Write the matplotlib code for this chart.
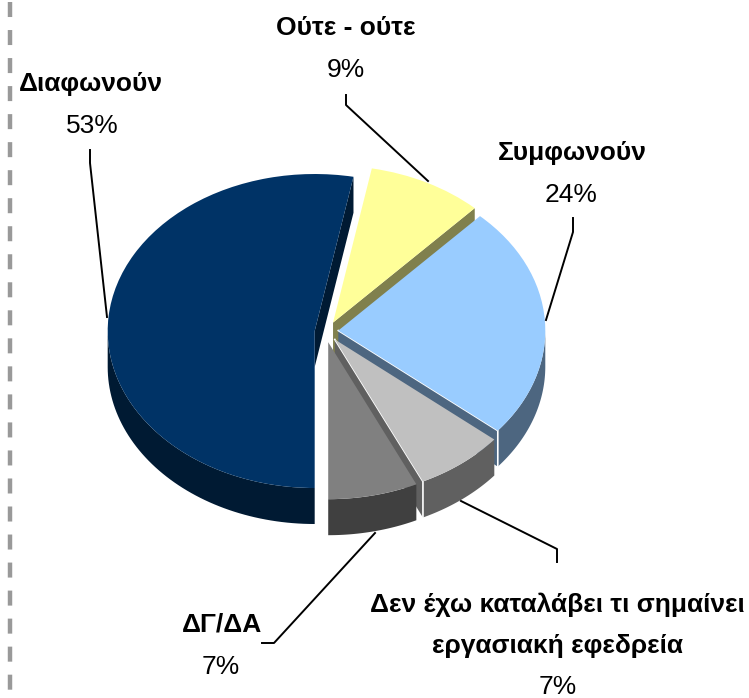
#!/usr/bin/env python3
import numpy as np
import matplotlib as mp
mp.use('Agg')

from matplotlib import pyplot as plt

W, H = 749, 698

# data
labels = ['Διαφωνούν', 'Ούτε - ούτε', 'Συμφωνούν',
          'Δεν έχω καταλάβει τι σημαίνει\nεργασιακή εφεδρεία', 'ΔΓ/ΔΑ']
values = [53, 9, 24, 7, 7]
colors = ['#003366', '#FFFF99', '#99CCFF', '#C0C0C0', '#808080']

# layout (pixels of the reference)
CX, CY = 329, 331
RX, RY = 207, 157
DEPTH = 36 / RY
explode = [0.067, 0.06, 0.045, 0.06, 0.06]
# the reference's perspective moves slices a bit off their explode line
nudge = [(-0.5, 1), (-1.6, 0), (0, 0), (-1.8, 1), (-3.5, 2)]


def px(x, y):
    return (x - CX) / RX, (CY - y) / RY


def rim(center, deg):
    a = np.radians(deg)
    return center[0] + np.cos(a), center[1] + np.sin(a)


def draw_walls(ax, wedge, color, z):
    c = wedge.center
    dark = tuple(0.5 * v for v in mp.colors.to_rgb(color))
    t1, t2 = wedge.theta1, wedge.theta2

    # outer wall, only the part on the front half
    for lo, hi in [(-180, 0), (180, 360)]:
        a, b = max(t1, lo), min(t2, hi)
        if a >= b:
            continue
        t = np.radians(np.linspace(a, b, 60))
        xs = c[0] + np.cos(t)
        ys = c[1] + np.sin(t)
        ax.fill(np.r_[xs, xs[::-1]], np.r_[ys, ys[::-1] - DEPTH],
                color=dark, lw=0, zorder=z)

    # cut face at the clockwise end of the slice
    rx, ry = rim(c, t1)
    ax.fill([c[0], rx, rx, c[0]], [c[1], ry, ry - DEPTH, c[1] - DEPTH],
            color=dark, lw=0, zorder=z)


def draw_highlight(ax, wedge, z):
    c = wedge.center
    rx, ry = rim(c, wedge.theta1)
    ax.plot([c[0], rx, rx], [c[1], ry, ry - DEPTH], color='white', lw=1.2,
            solid_joinstyle='miter', zorder=z)


fig = plt.figure(figsize=(W / 100, H / 100), dpi=100)
ax = fig.add_axes([0, 0, 1, 1])

wedges, _ = ax.pie(values, colors=colors, explode=explode, startangle=270,
                   counterclock=False, radius=1, center=(0, 0),
                   wedgeprops={'linewidth': 0})
ax.set_aspect('auto')
ax.set_xlim(px(0, 0)[0], px(W, 0)[0])
ax.set_ylim(px(0, H)[1], px(0, 0)[1])
ax.axis('off')

for w, (dx, dy) in zip(wedges, nudge):
    w.set_center((w.center[0] + dx / RX, w.center[1] - dy / RY))

# back to front: each slice hides the cut face of the one before it
for z, (w, col) in enumerate(zip(wedges, colors)):
    draw_walls(ax, w, col, 2 * z + 2)
    w.set_zorder(2 * z + 3)

draw_highlight(ax, wedges[2], 6)
draw_highlight(ax, wedges[3], 8)

# page border left over at the side
ax.plot(*zip(px(10, 2), px(10, H)), color='#999999', lw=3.2,
        dashes=(15 / 4.44, 13 / 4.44), dash_capstyle='butt', zorder=1)

# leader lines
leaders = [
    [(90, 150), (90, 163), (107, 317)],
    [(346, 95), (346, 105), (428, 181)],
    [(573, 218), (573, 232), (546, 320)],
    [(461, 501), (557, 549), (557, 562)],
    [(375, 533), (274, 643), (262, 643)],
]
for pts in leaders:
    xy = np.array([px(*p) for p in pts])
    ax.plot(xy[:, 0], xy[:, 1], color='black', lw=1.4, zorder=20)

# labels, placed by baseline
FONT = ['Liberation Sans']
SIZE = 19
LINE = 41
name_pos = [(91, 91), (346, 35), (572, 160), (557, 612), (222, 631)]
pct_pos = [(92, 133), (346, 77), (571, 202), (558, 694), (221, 674)]
for name, val, p, q in zip(labels, values, name_pos, pct_pos):
    for i, line in enumerate(name.split('\n')):
        ax.text(*px(p[0], p[1] + i * LINE), line, family=FONT, fontsize=SIZE,
                fontweight='bold', ha='center', va='baseline', zorder=21)
    ax.text(*px(*q), '{}%'.format(val), family=FONT, fontsize=SIZE,
            ha='center', va='baseline', zorder=21)

fig.savefig('out.png', dpi=100)
